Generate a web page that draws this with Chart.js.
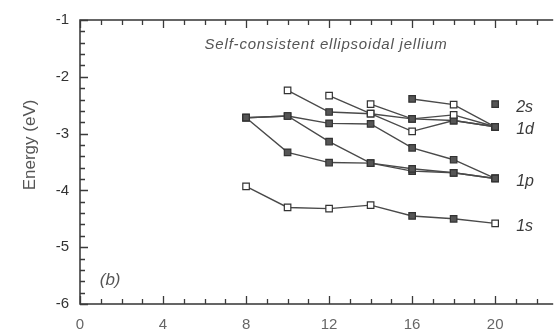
<!DOCTYPE html>
<html>
<head>
<meta charset="utf-8">
<script src="https://cdn.jsdelivr.net/npm/chart.js@4/dist/chart.umd.min.js"></script>
<style>
  html, body { margin: 0; padding: 0; background: #fff; overflow: hidden; }
  #wrap { width: 557px; height: 335px; position: relative; }
</style>
</head>
<body>
<div id="wrap"><canvas id="c" width="557" height="335"></canvas></div>
<script>
// ---- data (cluster size N vs single-particle level energy, eV) ----
const sizes = [8, 10, 12, 14, 16, 18, 20];
const level1s  = [-3.93, -4.30, -4.32, -4.26, -4.45, -4.50, -4.58];
const level1pA = [-2.72, -3.33, -3.51, -3.52, -3.62, -3.69, -3.79];
const level1pB = [-2.72, -2.69, -3.14, -3.52, -3.66, -3.69, -3.79];
const level1pC = [-2.72, -2.69, -2.82, -2.83, -3.25, -3.46, -3.79];
const level1dA = [null, -2.24, -2.62, -2.65, -2.74, -2.67, -2.88];
const level1dB = [null, null, -2.33, -2.65, -2.96, -2.77, -2.88];
const level1dC = [null, null, null, -2.48, -2.74, -2.77, -2.88];
const level1dD = [null, null, null, null, -2.39, -2.49, -2.88];
const level2s  = [null, null, null, null, null, null, -2.48];
// occupied (filled marker) flags
const occ1s  = [0, 0, 0, 0, 1, 1, 0];
const occ1pA = [1, 1, 1, 1, 1, 1, 1];
const occ1pB = [1, 1, 1, 1, 1, 1, 1];
const occ1pC = [1, 1, 1, 1, 1, 1, 1];
const occ1dA = [0, 0, 1, 0, 1, 0, 1];
const occ1dB = [0, 0, 0, 0, 0, 1, 1];
const occ1dC = [0, 0, 0, 0, 1, 1, 1];
const occ1dD = [0, 0, 0, 0, 1, 0, 1];
const occ2s  = [1, 1, 1, 1, 1, 1, 1];
const xTicks = [0, 4, 8, 12, 16, 20];
const levelLabels = [
  { text: '2s', y: -2.48 },
  { text: '1d', y: -2.88 },
  { text: '1p', y: -3.79 },
  { text: '1s', y: -4.58 }
];
const titleText = 'Self-consistent ellipsoidal jellium';
const panelText = '(b)';
const yTitle = 'Energy (eV)';

// ---- style ----
const LINE = '#4a4a4a';
const FILL = '#555555';
const OPEN = '#ffffff';
const TEXT = '#3a3a3a';
const FONT = '"Liberation Sans", Arial, Helvetica, sans-serif';

function ds(vals, occ, showLine) {
  return {
    data: sizes.map((n, i) => ({ x: n, y: vals[i] })),
    borderColor: LINE,
    borderWidth: 1.4,
    showLine: showLine,
    spanGaps: false,
    pointStyle: 'rect',
    pointRadius: 4.6,
    pointBorderWidth: 1.2,
    pointBorderColor: '#333',
    pointBackgroundColor: occ.map(o => o ? FILL : OPEN),
    tension: 0
  };
}

const frame = {
  id: 'frame',
  afterDatasetsDraw(chart) {
    const { ctx, chartArea: a, scales: { x, y } } = chart;
    ctx.save();
    ctx.strokeStyle = '#333';
    ctx.lineWidth = 1.5;
    ctx.beginPath();
    ctx.moveTo(a.right + 2, a.top); ctx.lineTo(a.left, a.top);
    ctx.lineTo(a.left, a.bottom); ctx.lineTo(a.right + 2, a.bottom);
    ctx.stroke();
    ctx.lineWidth = 1.3;
    ctx.strokeStyle = '#3a3a3a';
    ctx.beginPath();
    for (let k = 0; k <= 25; k++) {
      const v = -6 + k * 0.2;
      const py = Math.round(y.getPixelForValue(v)) + 0.5;
      const major = k % 5 === 0;
      ctx.moveTo(a.left, py); ctx.lineTo(a.left + (major ? 8 : 5), py);
    }
    for (let v = 0; v <= 22; v++) {
      const px = Math.round(x.getPixelForValue(v)) + 0.5;
      const len = v % 4 === 0 ? 8 : 5;
      ctx.moveTo(px, a.bottom); ctx.lineTo(px, a.bottom - len);
      ctx.moveTo(px, a.top); ctx.lineTo(px, a.top + len);
    }
    ctx.stroke();
    // texts
    ctx.fillStyle = TEXT;
    ctx.textBaseline = 'middle';
    ctx.textAlign = 'left';
    ctx.font = 'italic 16px ' + FONT;
    const lx = x.getPixelForValue(20) + 21;
    levelLabels.forEach(l => ctx.fillText(l.text, lx, y.getPixelForValue(l.y) + 3));
    ctx.fillStyle = '#555';
    ctx.font = 'italic 15px ' + FONT;
    try { ctx.letterSpacing = '0.8px'; } catch (e) {}
    ctx.fillText(titleText, x.getPixelForValue(6.0), y.getPixelForValue(-1.44));
    try { ctx.letterSpacing = '0px'; } catch (e) {}
    ctx.font = 'italic 17px ' + FONT;
    ctx.fillText(panelText, x.getPixelForValue(0.95), y.getPixelForValue(-5.58));
    ctx.save();
    ctx.translate(30, y.getPixelForValue(-3.2));
    ctx.rotate(-Math.PI / 2);
    ctx.textAlign = 'center';
    ctx.fillStyle = '#555';
    ctx.font = '17px ' + FONT;
    ctx.fillText(yTitle, 0, 0);
    ctx.restore();
    ctx.restore();
  }
};

new Chart(document.getElementById('c'), {
  type: 'scatter',
  data: {
    datasets: [
      ds(level1s, occ1s, true),
      ds(level1pA, occ1pA, true),
      ds(level1pB, occ1pB, true),
      ds(level1pC, occ1pC, true),
      ds(level1dA, occ1dA, true),
      ds(level1dB, occ1dB, true),
      ds(level1dC, occ1dC, true),
      ds(level1dD, occ1dD, true),
      ds(level2s, occ2s, false)
    ]
  },
  options: {
    responsive: false,
    animation: false,
    layout: { padding: { top: 17, right: 0, left: 0, bottom: 0 } },
    plugins: { legend: { display: false }, tooltip: { enabled: false } },
    scales: {
      x: {
        type: 'linear', min: 0, max: 22.7,
        afterBuildTicks: s => { s.ticks = xTicks.map(v => ({ value: v })); },
        afterFit: s => { s.height = 31; },
        grid: { display: false, drawTicks: false },
        border: { display: false },
        ticks: { color: '#666', font: { family: FONT, size: 15 }, padding: 12, maxRotation: 0 }
      },
      y: {
        type: 'linear', min: -6, max: -1,
        afterFit: s => { s.width = 80; },
        grid: { display: false, drawTicks: false },
        border: { display: false },
        ticks: { stepSize: 1, color: '#333', font: { family: FONT, size: 15 }, padding: 11 }
      }
    }
  },
  plugins: [frame]
});
</script>
</body>
</html>
